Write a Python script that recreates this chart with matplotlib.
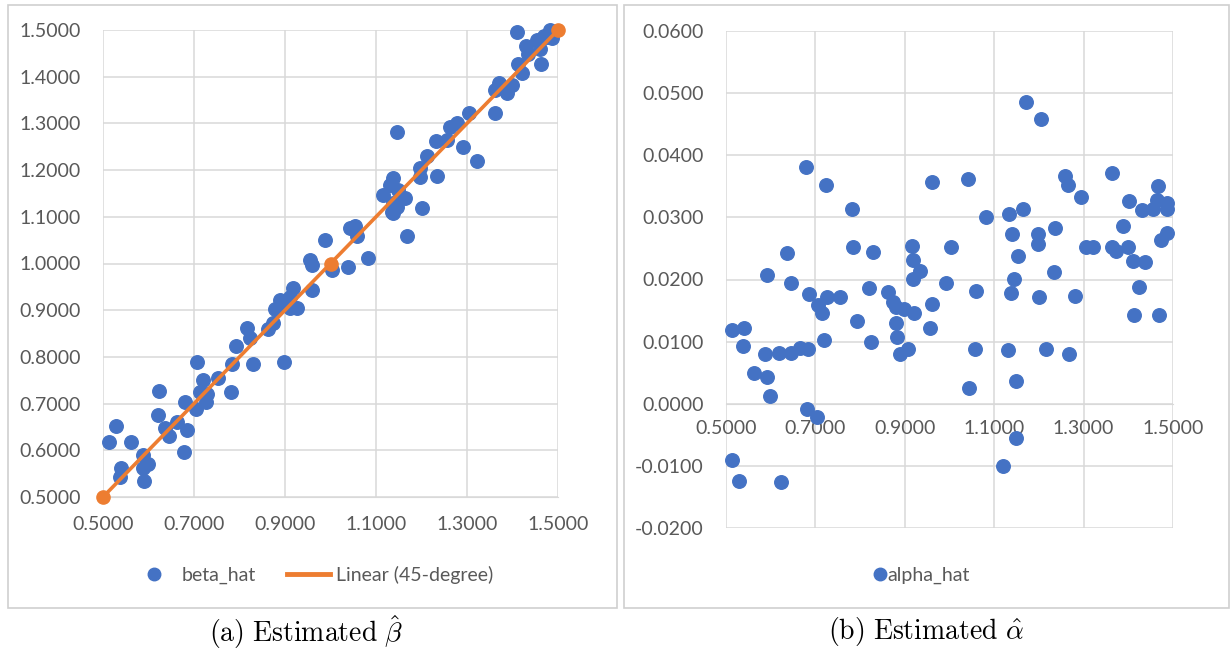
import numpy as np
import matplotlib.pyplot as plt
from matplotlib.patches import Rectangle
from matplotlib.lines import Line2D
from matplotlib.ticker import FormatStrFormatter, MultipleLocator

# datos (a): beta estimado
beta_x = [0.513, 0.529, 0.562, 0.540, 0.537, 0.588, 0.588, 0.599, 0.590, 0.623,
          0.621, 0.636, 0.645, 0.663, 0.680, 0.684, 0.678, 0.707, 0.704, 0.720,
          0.713, 0.726, 0.728, 0.753, 0.781, 0.784, 0.792, 0.830, 0.817, 0.823,
          0.863, 0.874, 0.878, 0.889, 0.898, 0.911, 0.918, 0.926, 0.911, 0.900,
          0.955, 0.959, 0.959, 0.988, 1.003, 1.038, 1.043, 1.054, 1.058, 1.082,
          1.168, 1.115, 1.131, 1.137, 1.148, 1.164, 1.137, 1.137, 1.146, 1.135,
          1.146, 1.201, 1.197, 1.197, 1.212, 1.234, 1.232, 1.256, 1.263, 1.278,
          1.291, 1.304, 1.322, 1.362, 1.362, 1.370, 1.388, 1.399, 1.421, 1.412,
          1.430, 1.434, 1.410, 1.454, 1.463, 1.460, 1.476, 1.487, 1.482, 1.469]
beta_hat = [0.618, 0.652, 0.618, 0.562, 0.543, 0.590, 0.562, 0.571, 0.534, 0.727,
            0.676, 0.648, 0.631, 0.661, 0.703, 0.643, 0.596, 0.789, 0.688, 0.750,
            0.725, 0.703, 0.720, 0.755, 0.725, 0.785, 0.823, 0.785, 0.862, 0.841,
            0.860, 0.873, 0.903, 0.922, 0.789, 0.928, 0.947, 0.905, 0.905, 0.911,
            1.008, 0.997, 0.943, 1.050, 0.986, 0.993, 1.076, 1.080, 1.059, 1.012,
            1.059, 1.147, 1.168, 1.183, 1.157, 1.140, 1.130, 1.108, 1.121, 1.110,
            1.282, 1.119, 1.185, 1.204, 1.230, 1.187, 1.262, 1.264, 1.292, 1.301,
            1.250, 1.322, 1.220, 1.322, 1.372, 1.387, 1.365, 1.382, 1.408, 1.427,
            1.466, 1.448, 1.496, 1.479, 1.427, 1.459, 1.485, 1.483, 1.500, 1.487]

# línea de 45 grados
linea_x = [0.5, 1.0, 1.5]
linea_y = [0.5, 1.0, 1.5]

# datos (b): alfa estimado
alpha_x = [0.679, 0.724, 0.782, 0.961, 1.041, 0.636, 0.784, 0.829, 0.916, 1.003,
           0.918, 1.171, 1.205, 1.258, 1.265, 1.294, 1.364, 1.466, 1.402, 1.431,
           1.455, 1.464, 1.487, 1.487, 1.082, 1.133, 1.164, 1.140, 1.198, 1.198,
           1.236, 1.153, 1.305, 1.321, 1.364, 1.372, 1.399, 1.388, 1.487, 1.473,
           1.411, 1.437, 1.234, 1.144, 1.138, 1.059, 1.200, 1.281, 1.424, 1.413,
           1.469, 1.057, 1.131, 1.216, 1.267, 1.044, 1.149, 1.149, 1.120, 0.934,
           0.918, 0.992, 0.592, 0.645, 0.686, 0.726, 0.755, 0.706, 0.715, 0.820,
           0.862, 0.874, 0.880, 0.898, 0.921, 0.961, 0.956, 0.793, 0.880, 0.883,
           0.824, 0.719, 0.889, 0.907, 0.513, 0.540, 0.538, 0.587, 0.619, 0.645,
           0.666, 0.684, 0.563, 0.592, 0.598, 0.681, 0.704, 0.513, 0.529, 0.623]
alpha_hat = [0.0381, 0.0352, 0.0313, 0.0357, 0.0362, 0.0243, 0.0252, 0.0244, 0.0254, 0.0252,
             0.0232, 0.0486, 0.0458, 0.0367, 0.0352, 0.0333, 0.0371, 0.0350, 0.0326, 0.0312,
             0.0313, 0.0328, 0.0323, 0.0313, 0.0301, 0.0305, 0.0313, 0.0273, 0.0273, 0.0257,
             0.0283, 0.0238, 0.0252, 0.0252, 0.0252, 0.0246, 0.0252, 0.0286, 0.0275, 0.0264,
             0.0230, 0.0228, 0.0212, 0.0201, 0.0178, 0.0182, 0.0172, 0.0174, 0.0188, 0.0143,
             0.0143, 0.0088, 0.0087, 0.0088, 0.0080, 0.0026, 0.0037, -0.0055, -0.0100, 0.0214,
             0.0201, 0.0194, 0.0207, 0.0195, 0.0177, 0.0172, 0.0172, 0.0159, 0.0146, 0.0186,
             0.0180, 0.0164, 0.0156, 0.0153, 0.0146, 0.0161, 0.0122, 0.0133, 0.0130, 0.0108,
             0.0100, 0.0103, 0.0080, 0.0088, 0.0119, 0.0122, 0.0093, 0.0080, 0.0082, 0.0082,
             0.0090, 0.0088, 0.0050, 0.0043, 0.0013, -0.0008, -0.0021, -0.0090, -0.0124, -0.0126]

x_ticks = [0.5, 0.7, 0.9, 1.1, 1.3, 1.5]

azul = "#4472C4"
naranja = "#ED7D31"
gris_texto = "#595959"
gris_linea = "#D9D9D9"

plt.rcParams["font.family"] = ["Lato", "DejaVu Sans"]
plt.rcParams["mathtext.fontset"] = "cm"

W, H = 1231, 657
fig = plt.figure(figsize=(W / 100, H / 100), dpi=100)

# marcos de los dos gráficos (estilo Excel)
fig.patches.append(Rectangle((8 / W, 1 - 608 / H), 609 / W, 603 / H, transform=fig.transFigure,
                             fill=False, edgecolor="#CFCFCF", linewidth=1.2))
fig.patches.append(Rectangle((624 / W, 1 - 608 / H), 605 / W, 603 / H, transform=fig.transFigure,
                             fill=False, edgecolor="#CFCFCF", linewidth=1.2))


def estilo(ax):
    ax.grid(True, color=gris_linea, linewidth=1.1)
    ax.set_axisbelow(True)
    for s in ax.spines.values():
        s.set_visible(False)
    ax.tick_params(length=0, colors=gris_texto, labelsize=14)
    ax.set_xticks(x_ticks)
    ax.xaxis.set_major_formatter(FormatStrFormatter("%.4f"))
    ax.yaxis.set_major_formatter(FormatStrFormatter("%.4f"))


# 📌 Gráfico (a)
ax1 = fig.add_axes([103 / W, 1 - 497 / H, 455 / W, 467 / H])
estilo(ax1)
ax1.set_xlim(0.5, 1.5)
ax1.set_ylim(0.5, 1.5)
ax1.yaxis.set_major_locator(MultipleLocator(0.1))
ax1.spines["bottom"].set_visible(True)
ax1.spines["bottom"].set_color(gris_linea)
ax1.tick_params(axis="x", pad=14)
ax1.tick_params(axis="y", pad=16)
ax1.scatter(beta_x, beta_hat, s=95, color=azul, zorder=3, clip_on=False)
ax1.plot(linea_x, linea_y, color=naranja, linewidth=2.6, marker="o", markersize=9.5,
         zorder=4, clip_on=False)
h1 = Line2D([], [], linestyle="none", marker="o", markersize=9, color=azul)
h2 = Line2D([], [], color=naranja, linewidth=3.5)
ax1.legend(handles=[h1, h2], labels=["beta_hat", "Linear (45-degree)"], loc="center",
           bbox_to_anchor=(313 / W, 1 - 575 / H), bbox_transform=fig.transFigure, ncol=2,
           frameon=False, fontsize=14, labelcolor=gris_texto, handlelength=2.2,
           handletextpad=0.3, columnspacing=1.6)

# 📌 Gráfico (b)
ax2 = fig.add_axes([726 / W, 1 - 528 / H, 447 / W, 497 / H])
estilo(ax2)
ax2.set_xlim(0.5, 1.5)
ax2.set_ylim(-0.02, 0.06)
ax2.yaxis.set_major_locator(MultipleLocator(0.01))
ax2.spines["bottom"].set_visible(True)
ax2.spines["bottom"].set_position(("data", 0))
ax2.spines["bottom"].set_color(gris_linea)
ax2.tick_params(axis="x", pad=12)
ax2.tick_params(axis="y", pad=16)
ax2.scatter(alpha_x, alpha_hat, s=95, color=azul, zorder=3, clip_on=False)
h3 = Line2D([], [], linestyle="none", marker="o", markersize=9, color=azul)
ax2.legend(handles=[h3], labels=["alpha_hat"], loc="center", bbox_to_anchor=(922 / W, 1 - 575 / H),
           bbox_transform=fig.transFigure, frameon=False, fontsize=14,
           labelcolor=gris_texto, handlelength=0.6, handletextpad=0.1)

# 📌 Títulos debajo
fig.text(306 / W, 1 - 632 / H, r"$\mathrm{(a)\ Estimated}\ \hat{\beta}$", ha="center", va="center",
         fontsize=20, color="black")
fig.text(926 / W, 1 - 632 / H, r"$\mathrm{(b)\ Estimated}\ \hat{\alpha}$", ha="center", va="center",
         fontsize=20, color="black")

plt.savefig("out.png", dpi=100)
